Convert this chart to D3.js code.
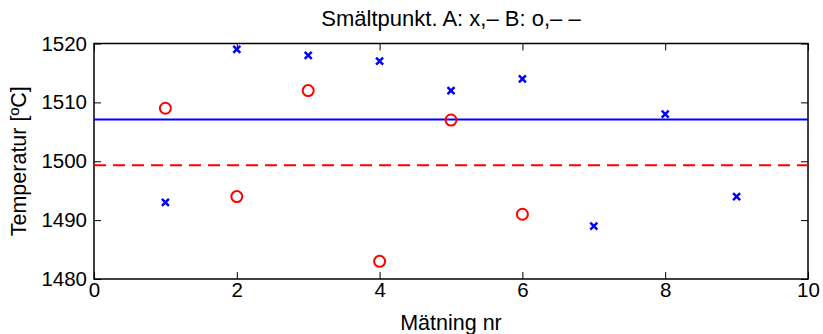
<!DOCTYPE html>
<html>
<head>
<meta charset="utf-8">
<script src="https://cdn.jsdelivr.net/npm/d3@7"></script>
<style>
  body { margin: 0; background: #fff; }
  text { font-family: "Liberation Sans", Arial, sans-serif; fill: #000; }
</style>
</head>
<body>
<script>
// measurements, series A and B
var nrA = [1, 2, 3, 4, 5, 6, 7, 8, 9];
var tempA = [1493, 1519, 1518, 1517, 1512, 1514, 1489, 1508, 1494];
var nrB = [1, 2, 3, 4, 5, 6];
var tempB = [1509, 1494, 1512, 1483, 1507, 1491];
var xTicks = [0, 2, 4, 6, 8, 10];
var yTicks = [1480, 1490, 1500, 1510, 1520];

var width = 823, height = 334;
var margin = { top: 43.5, right: 15, bottom: 55, left: 94 };
var w = width - margin.left - margin.right,
    h = height - margin.top - margin.bottom;

var svg = d3.select("body").append("svg")
  .attr("width", width)
  .attr("height", height);
var g = svg.append("g")
  .attr("transform", "translate(" + margin.left + "," + margin.top + ")");

var x = d3.scaleLinear().domain([0, 10]).range([0, w]);
var y = d3.scaleLinear().domain([1480, 1520]).range([h, 0]);

// axes with inward ticks on all four sides (matlab box)
function styleAxis(sel) {
  sel.select(".domain").remove();
  sel.selectAll("line").attr("stroke", "#000").attr("stroke-width", 1);
  sel.selectAll("text").style("font-size", "20.5px");
}
g.append("g").attr("transform", "translate(0," + h + ")")
  .call(d3.axisBottom(x).tickValues(xTicks).tickSizeInner(-7).tickSizeOuter(0)
    .tickPadding(3).tickFormat(d3.format("d")))
  .call(styleAxis);
g.append("g")
  .call(d3.axisLeft(y).tickValues(yTicks).tickSizeInner(-7).tickSizeOuter(0)
    .tickPadding(7).tickFormat(d3.format("d")))
  .call(styleAxis);
g.append("g")
  .call(d3.axisTop(x).tickValues(xTicks).tickSizeInner(-7).tickSizeOuter(0).tickFormat(""))
  .call(styleAxis);
g.append("g").attr("transform", "translate(" + w + ",0)")
  .call(d3.axisRight(y).tickValues(yTicks).tickSizeInner(-7).tickSizeOuter(0).tickFormat(""))
  .call(styleAxis);

g.append("rect")
  .attr("width", w).attr("height", h)
  .attr("fill", "none").attr("stroke", "#000").attr("stroke-width", 1.5);

// mean lines
var meanA = d3.mean(tempA), meanB = d3.mean(tempB);
g.append("line")
  .attr("x1", x(0)).attr("x2", x(10))
  .attr("y1", y(meanA)).attr("y2", y(meanA))
  .attr("stroke", "#0000ff").attr("stroke-width", 2);
g.append("line")
  .attr("x1", x(0)).attr("x2", x(10))
  .attr("y1", y(meanB)).attr("y2", y(meanB))
  .attr("stroke", "#ff0000").attr("stroke-width", 2)
  .attr("stroke-dasharray", "12,7");

// A: x markers
var s = 3.5;
g.selectAll(".markA")
  .data(nrA.map(function(d, i) { return [d, tempA[i]]; }))
  .enter().append("path")
  .attr("class", "markA")
  .attr("d", function(d) {
    var cx = x(d[0]), cy = y(d[1]);
    return "M" + (cx - s) + "," + (cy - s) + "L" + (cx + s) + "," + (cy + s) +
      "M" + (cx - s) + "," + (cy + s) + "L" + (cx + s) + "," + (cy - s);
  })
  .attr("stroke", "#0000ff").attr("stroke-width", 2.5).attr("fill", "none");

// B: circles
g.selectAll(".markB")
  .data(nrB.map(function(d, i) { return [d, tempB[i]]; }))
  .enter().append("circle")
  .attr("class", "markB")
  .attr("cx", function(d) { return x(d[0]); })
  .attr("cy", function(d) { return y(d[1]); })
  .attr("r", 5.5)
  .attr("stroke", "#ff0000").attr("stroke-width", 2).attr("fill", "none");

// labels
svg.append("text")
  .attr("x", margin.left + w / 2).attr("y", 26)
  .attr("text-anchor", "middle").style("font-size", "22px")
  .text("Smältpunkt. A: x,– B: o,– –");
svg.append("text")
  .attr("x", margin.left + w / 2).attr("y", 330)
  .attr("text-anchor", "middle").style("font-size", "21.5px")
  .text("Mätning nr");
svg.append("text")
  .attr("transform", "translate(26," + (margin.top + h / 2) + ") rotate(-90)")
  .attr("text-anchor", "middle").style("font-size", "21.5px")
  .text("Temperatur [ºC]");
</script>
</body>
</html>
